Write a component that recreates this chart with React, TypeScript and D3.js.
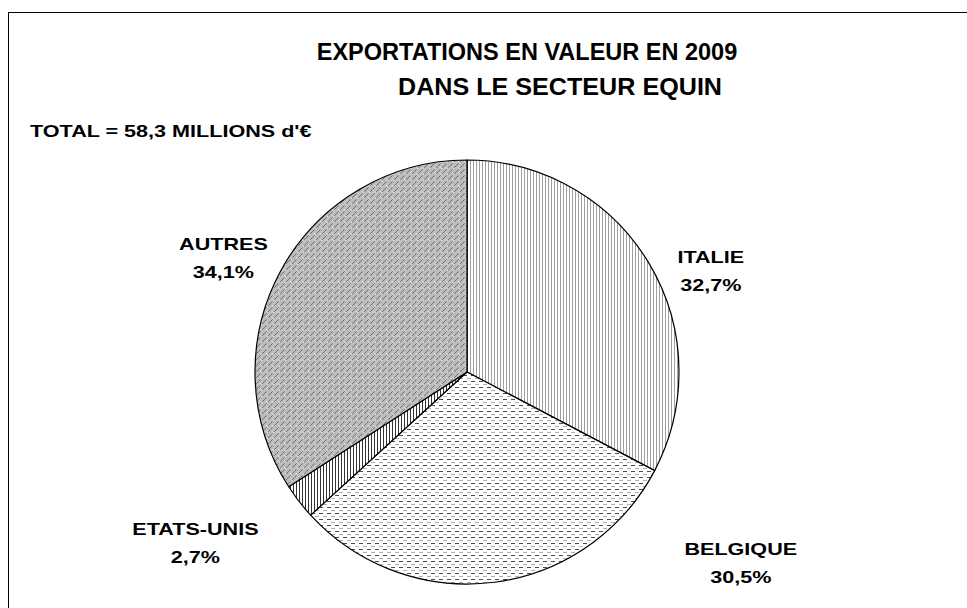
import React from 'react';
import * as d3 from 'd3';

const countries = ['ITALIE', 'BELGIQUE', 'ETATS-UNIS', 'AUTRES'];
const shares = [32.7, 30.5, 2.7, 34.1];
const shareLabels = ['32,7%', '30,5%', '2,7%', '34,1%'];
const patternIds = ['pItalie', 'pBelgique', 'pEtats', 'pAutres'];
// label placement: angle from 12 o'clock (deg) and distance from centre
const labelAngles = [66.4, 124.2, 238.5, 296];
const labelRadius = [266, 331, 318.5, 271];

const W = 967;
const H = 608;
const cx = 467;
const cy = 372;
const radius = 212;
const stretch = 1.3; // small texts in the original are drawn wider than tall
const font = 'Liberation Sans, Arial, sans-serif';

function WideText(props: { x: number; y: number; size: number; anchor?: string; sx?: number; children: React.ReactNode }) {
  return (
    <text
      transform={`translate(${props.x},${props.y}) scale(${props.sx ?? stretch},1)`}
      fontSize={props.size}
      textAnchor={props.anchor || 'middle'}
    >
      {props.children}
    </text>
  );
}

export default function App() {
  const pie = d3.pie<number>().sort(null).value(d => d);
  const arcs = pie(shares);
  const arc = d3.arc<d3.PieArcDatum<number>>().innerRadius(0).outerRadius(radius);

  return (
    <div style={{ position: 'fixed', left: 0, top: 0 }}>
      <svg width={W} height={H} style={{ display: 'block', background: '#fff' }}>
        <defs>
          <pattern id="pItalie" width="3" height="3" patternUnits="userSpaceOnUse">
            <rect width="3" height="3" fill="#fff" />
            <rect x="0" width="1" height="3" fill="#a0a0a0" />
          </pattern>
          <pattern id="pBelgique" width="8" height="6" patternUnits="userSpaceOnUse">
            <rect width="8" height="6" fill="#fff" />
            <rect x="0" y="0" width="4" height="1" fill="#b0b0b0" />
            <rect x="4" y="3" width="4" height="1" fill="#4d4d4d" />
          </pattern>
          <pattern id="pEtats" width="3" height="3" patternUnits="userSpaceOnUse">
            <rect width="3" height="3" fill="#fff" />
            <rect x="0" width="1" height="3" fill="#333" />
          </pattern>
          <pattern id="pAutres" width="6" height="6" patternUnits="userSpaceOnUse">
            <rect width="6" height="6" fill="#bdbdbd" />
            <rect x="0" y="4" width="1" height="1" fill="#6a6a6a" />
            <rect x="1" y="3" width="1" height="1" fill="#7a7a7a" />
            <rect x="2" y="2" width="1" height="1" fill="#6a6a6a" />
            <rect x="3" y="1" width="1" height="1" fill="#909090" />
            <rect x="4" y="0" width="1" height="1" fill="#dadada" />
            <rect x="3" y="5" width="1" height="1" fill="#dadada" />
            <rect x="5" y="5" width="1" height="1" fill="#808080" />
          </pattern>
        </defs>

        <rect x={8.5} y={12.5} width={1200} height={900} fill="none" stroke="#000" strokeWidth={1} />

        <g fontFamily={font} fontWeight="bold" fill="#000">
          <WideText x={527} y={60} size={23.5} sx={1}>EXPORTATIONS EN VALEUR EN 2009</WideText>
          <WideText x={398} y={95} size={23.5} sx={1.07} anchor="start">DANS LE SECTEUR EQUIN</WideText>
          <WideText x={30} y={137} size={16.6} anchor="start">TOTAL = 58,3 MILLIONS d'€</WideText>
        </g>

        <g transform={`translate(${cx},${cy})`}>
          {arcs.map((a, i) => (
            <path key={countries[i]} d={arc(a) || ''} fill={`url(#${patternIds[i]})`} stroke="#000" strokeWidth={1.2} strokeLinejoin="round" />
          ))}
        </g>

        <g fontFamily={font} fontWeight="bold" fill="#000">
          {countries.map((c, i) => {
            const ang = (labelAngles[i] * Math.PI) / 180;
            const x = cx + labelRadius[i] * Math.sin(ang);
            const y = cy - labelRadius[i] * Math.cos(ang);
            return (
              <g key={c}>
                <WideText x={x} y={y - 3} size={16.6}>{c}</WideText>
                <WideText x={x} y={y + 25} size={16.6}>{shareLabels[i]}</WideText>
              </g>
            );
          })}
        </g>
      </svg>
    </div>
  );
}
